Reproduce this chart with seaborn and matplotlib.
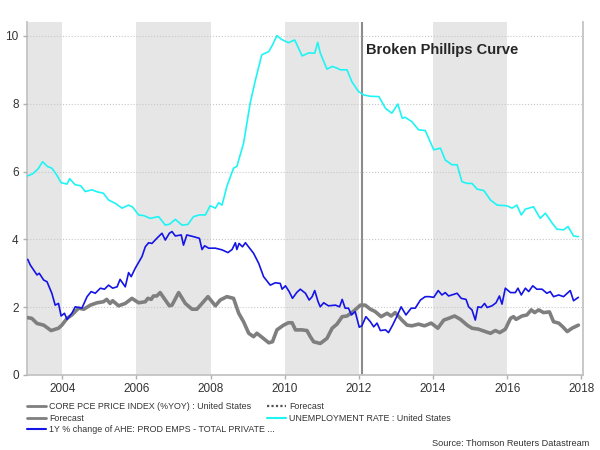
import matplotlib
matplotlib.use('Agg')
import matplotlib.pyplot as plt
from matplotlib.lines import Line2D
import seaborn as sns

sns.set_style('white')
plt.rcParams['font.family'] = ['Liberation Sans', 'DejaVu Sans']

# Unemployment rate (cyan)
unemp_x = [2003.06, 2003.2, 2003.35, 2003.47, 2003.6, 2003.72, 2003.85, 2003.97, 2004.13, 2004.2,
           2004.35, 2004.5, 2004.62, 2004.8, 2004.95, 2005.11, 2005.25, 2005.45, 2005.61, 2005.79,
           2005.9, 2006.06, 2006.2, 2006.37, 2006.6, 2006.78, 2006.9, 2007.05, 2007.23, 2007.39,
           2007.54, 2007.7, 2007.86, 2007.99, 2008.13, 2008.22, 2008.31, 2008.44, 2008.62, 2008.71,
           2008.89, 2009.07, 2009.2, 2009.38, 2009.57, 2009.67, 2009.79, 2009.91, 2010.1, 2010.27,
           2010.47, 2010.65, 2010.81, 2010.89, 2010.96, 2011.14, 2011.28, 2011.41, 2011.5, 2011.68,
           2011.81, 2011.99, 2012.13, 2012.3, 2012.54, 2012.72, 2012.89, 2013.05, 2013.17, 2013.25,
           2013.43, 2013.61, 2013.79, 2014.02, 2014.2, 2014.33, 2014.51, 2014.65, 2014.78, 2014.92,
           2015.05, 2015.19, 2015.37, 2015.55, 2015.73, 2015.99, 2016.13, 2016.26, 2016.38, 2016.49,
           2016.71, 2016.89, 2017.03, 2017.2, 2017.34, 2017.52, 2017.64, 2017.79, 2017.92]
unemp_y = [5.87, 5.93, 6.08, 6.29, 6.15, 6.1, 5.9, 5.67, 5.63, 5.79,
           5.61, 5.58, 5.41, 5.46, 5.4, 5.36, 5.16, 5.05, 4.92, 5.01,
           4.95, 4.72, 4.7, 4.62, 4.67, 4.42, 4.45, 4.59, 4.42, 4.44,
           4.67, 4.72, 4.72, 4.99, 4.92, 5.08, 5.01, 5.56, 6.1, 6.15,
           6.83, 8.02, 8.65, 9.44, 9.54, 9.73, 10.01, 9.9, 9.8, 9.88,
           9.41, 9.5, 9.49, 9.81, 9.49, 9.02, 9.1, 9.05, 9.0, 9.0,
           8.65, 8.36, 8.26, 8.22, 8.21, 7.86, 7.72, 7.99, 7.57, 7.6,
           7.47, 7.23, 7.21, 6.64, 6.69, 6.34, 6.2, 6.2, 5.7, 5.65,
           5.65, 5.48, 5.44, 5.16, 5.01, 4.99, 4.92, 5.01, 4.72, 4.89,
           4.96, 4.62, 4.77, 4.5, 4.3, 4.28, 4.38, 4.1, 4.08]

# 1Y % change of average hourly earnings (blue)
ahe_x = [2003.07, 2003.14, 2003.32, 2003.38, 2003.5, 2003.59, 2003.72, 2003.81, 2003.9, 2003.97,
         2004.06, 2004.13, 2004.26, 2004.35, 2004.53, 2004.67, 2004.78, 2004.89, 2005.03, 2005.14,
         2005.25, 2005.36, 2005.48, 2005.56, 2005.7, 2005.79, 2005.86, 2005.97, 2006.15, 2006.24,
         2006.33, 2006.42, 2006.55, 2006.69, 2006.78, 2006.89, 2006.96, 2007.05, 2007.21, 2007.27,
         2007.36, 2007.54, 2007.7, 2007.77, 2007.84, 2007.95, 2008.13, 2008.31, 2008.47, 2008.58,
         2008.67, 2008.71, 2008.77, 2008.86, 2008.94, 2009.16, 2009.3, 2009.43, 2009.61, 2009.75,
         2009.88, 2009.93, 2010.02, 2010.12, 2010.21, 2010.33, 2010.42, 2010.56, 2010.66, 2010.74,
         2010.81, 2010.9, 2010.96, 2011.05, 2011.18, 2011.37, 2011.48, 2011.55, 2011.63, 2011.72,
         2011.8, 2011.9, 2012.01, 2012.08, 2012.19, 2012.31, 2012.4, 2012.49, 2012.58, 2012.72,
         2012.8, 2012.91, 2013.03, 2013.14, 2013.27, 2013.41, 2013.52, 2013.66, 2013.79, 2013.9,
         2014.02, 2014.14, 2014.24, 2014.33, 2014.42, 2014.65, 2014.76, 2014.89, 2014.96, 2015.05,
         2015.14, 2015.21, 2015.3, 2015.39, 2015.46, 2015.59, 2015.7, 2015.79, 2015.86, 2015.95,
         2016.09, 2016.22, 2016.29, 2016.38, 2016.49, 2016.58, 2016.69, 2016.8, 2016.94, 2017.07,
         2017.16, 2017.25, 2017.39, 2017.52, 2017.7, 2017.79, 2017.92]
ahe_y = [3.41, 3.24, 2.95, 3.0, 2.8, 2.75, 2.41, 2.06, 2.11, 1.74,
         1.82, 1.64, 1.82, 2.01, 1.97, 2.31, 2.46, 2.41, 2.56, 2.53,
         2.65, 2.56, 2.6, 2.82, 2.6, 3.02, 2.9, 3.15, 3.49, 3.78,
         3.9, 3.88, 4.03, 4.18, 3.98, 4.18, 4.23, 4.1, 4.13, 3.83,
         4.13, 4.08, 4.03, 3.7, 3.81, 3.74, 3.74, 3.69, 3.61, 3.7,
         3.9, 3.7, 3.88, 3.78, 3.9, 3.59, 3.29, 2.9, 2.65, 2.72,
         2.7, 2.53, 2.63, 2.46, 2.26, 2.44, 2.53, 2.41, 2.21, 2.31,
         2.49, 2.16, 2.01, 2.13, 2.04, 2.06, 2.01, 2.23, 1.97, 1.97,
         1.77, 1.87, 1.41, 1.45, 1.72, 1.57, 1.42, 1.53, 1.31, 1.33,
         1.25, 1.47, 1.74, 2.01, 1.77, 1.97, 1.97, 2.21, 2.31, 2.31,
         2.29, 2.49, 2.36, 2.43, 2.33, 2.41, 2.26, 2.23, 2.01, 1.92,
         1.62, 2.01, 1.99, 2.11, 1.99, 2.04, 2.13, 2.33, 2.09, 2.56,
         2.43, 2.43, 2.56, 2.36, 2.56, 2.46, 2.63, 2.53, 2.53, 2.41,
         2.46, 2.31, 2.36, 2.31, 2.49, 2.19, 2.29]

# Core PCE price index %YoY (grey)
pce_x = [2003.07, 2003.18, 2003.32, 2003.5, 2003.7, 2003.9, 2003.99, 2004.13, 2004.26, 2004.44,
         2004.58, 2004.76, 2004.94, 2005.11, 2005.2, 2005.29, 2005.36, 2005.52, 2005.7, 2005.88,
         2006.06, 2006.24, 2006.31, 2006.4, 2006.46, 2006.55, 2006.64, 2006.78, 2006.89, 2006.96,
         2007.14, 2007.32, 2007.5, 2007.63, 2007.77, 2007.93, 2008.13, 2008.26, 2008.44, 2008.62,
         2008.76, 2008.89, 2009.03, 2009.16, 2009.25, 2009.39, 2009.57, 2009.67, 2009.79, 2009.97,
         2010.1, 2010.2, 2010.29, 2010.47, 2010.6, 2010.69, 2010.78, 2010.96, 2011.14, 2011.28,
         2011.41, 2011.55, 2011.68, 2011.81, 2011.95, 2012.04, 2012.17, 2012.31, 2012.44, 2012.6,
         2012.76, 2012.87, 2012.98, 2013.16, 2013.3, 2013.43, 2013.61, 2013.77, 2013.95, 2014.13,
         2014.29, 2014.42, 2014.58, 2014.74, 2014.92, 2015.05, 2015.23, 2015.41, 2015.55, 2015.68,
         2015.8, 2015.95, 2016.09, 2016.17, 2016.24, 2016.4, 2016.53, 2016.65, 2016.74, 2016.85,
         2016.98, 2017.14, 2017.25, 2017.39, 2017.5, 2017.62, 2017.75, 2017.92]
pce_y = [1.69, 1.67, 1.52, 1.47, 1.31, 1.38, 1.47, 1.67, 1.77, 1.97,
         1.94, 2.06, 2.13, 2.16, 2.23, 2.11, 2.19, 2.04, 2.11, 2.26,
         2.13, 2.16, 2.26, 2.23, 2.33, 2.33, 2.43, 2.21, 2.04, 2.06,
         2.43, 2.11, 1.94, 1.94, 2.11, 2.31, 2.04, 2.21, 2.31, 2.26,
         1.82, 1.57, 1.23, 1.13, 1.23, 1.11, 0.95, 0.98, 1.33, 1.47,
         1.54, 1.54, 1.33, 1.33, 1.31, 1.13, 0.98, 0.93, 1.08, 1.38,
         1.5, 1.72, 1.74, 1.84, 1.97, 2.06, 2.06, 1.94, 1.87, 1.72,
         1.82, 1.74, 1.84, 1.62, 1.47, 1.45, 1.5, 1.45, 1.53, 1.38,
         1.62, 1.67, 1.74, 1.64, 1.47, 1.38, 1.35, 1.28, 1.23, 1.31,
         1.25, 1.35, 1.67, 1.72, 1.64, 1.74, 1.77, 1.92, 1.84, 1.92,
         1.84, 1.86, 1.57, 1.53, 1.42, 1.28, 1.38, 1.47]

# shaded alternate periods and forecast start marker
shade_start = [2003.0, 2006, 2010, 2014]
shade_end = [2004, 2008, 2012, 2016]
forecast_line = 2012.08
year_ticks = [2004, 2006, 2008, 2010, 2012, 2014, 2016, 2018]
value_ticks = [0, 2, 4, 6, 8, 10]

GREY = '#7f7f7f'
CYAN = '#1ff4f4'
BLUE = '#1414e6'

fig = plt.figure(figsize=(6, 4.5), dpi=100)
ax = fig.add_axes([0.045, 0.1667, 0.927, 0.7844])

for s, e in zip(shade_start, shade_end):
    ax.axvspan(s, e, color='#e6e6e6', lw=0, zorder=0)

ax.axvline(forecast_line, color='#8c8c8c', lw=1.5, zorder=1)

sns.lineplot(x=pce_x, y=pce_y, ax=ax, color=GREY, linewidth=2.6, zorder=3)
sns.lineplot(x=unemp_x, y=unemp_y, ax=ax, color=CYAN, linewidth=1.2, zorder=4)
sns.lineplot(x=ahe_x, y=ahe_y, ax=ax, color=BLUE, linewidth=1.2, zorder=5)

ax.set_xlim(2003.05, 2018.05)
ax.set_ylim(0, 10.41)
ax.set_xticks(year_ticks)
ax.set_yticks(value_ticks)
ax.set_xticklabels([str(y) for y in year_ticks])
ax.grid(axis='y', color='#c8c8c8', linestyle=':', linewidth=0.8, zorder=1)
ax.set_axisbelow(False)
for gl in ax.get_ygridlines():
    gl.set_zorder(1.5)
ax.tick_params(axis='both', labelsize=8.5, colors='#333333', length=3, width=1,
               direction='out', color='#b0b0b0', pad=3)
ax.tick_params(left=True, bottom=True)

ax.spines['top'].set_visible(False)
for side in ['left', 'bottom', 'right']:
    ax.spines[side].set_color('#c4c4c4')
    ax.spines[side].set_linewidth(1.3)

ax.text(0.61, 0.92, 'Broken Phillips Curve', transform=ax.transAxes,
        fontsize=10.5, fontweight='bold', color='#262626', va='center', ha='left')

h1 = [Line2D([], [], color=GREY, lw=2.0),
      Line2D([], [], color=GREY, lw=2.0),
      Line2D([], [], color=BLUE, lw=1.5)]
l1 = ['CORE PCE PRICE INDEX (%YOY) : United States', 'Forecast',
      '1Y % change of AHE: PROD EMPS - TOTAL PRIVATE ...']
h2 = [Line2D([], [], color='#555555', lw=1.6, linestyle=(0, (1, 1))),
      Line2D([], [], color=CYAN, lw=1.5)]
l2 = ['Forecast', 'UNEMPLOYMENT RATE : United States']

leg_kw = dict(frameon=False, fontsize=6.4, handlelength=2.15, handletextpad=0.35,
              labelspacing=0.27, borderaxespad=0, borderpad=0, loc='upper left')
leg1 = fig.legend(h1, l1, bbox_to_anchor=(0.045, 0.106), **leg_kw)
leg2 = fig.legend(h2, l2, bbox_to_anchor=(0.445, 0.106), **leg_kw)
for leg in (leg1, leg2):
    for t in leg.get_texts():
        t.set_color('#333333')

fig.text(0.983, 0.004, 'Source: Thomson Reuters Datastream', fontsize=6.6,
         ha='right', va='bottom', color='#333333')

fig.savefig('out.png', dpi=100)
